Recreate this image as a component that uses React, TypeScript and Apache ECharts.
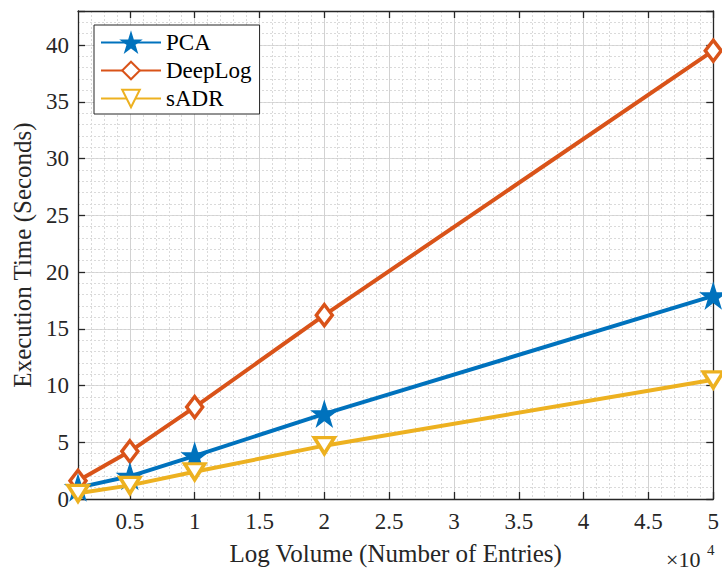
import React, { useEffect, useRef } from "react";
import * as echarts from "echarts";

// Log volume in units of 10^4 entries
const volume = [0.1, 0.5, 1, 2, 5];
// Execution time in seconds
const pca = [1.0, 2.0, 3.8, 7.5, 17.9];
const deepLog = [1.6, 4.2, 8.1, 16.2, 39.5];
const sadr = [0.5, 1.2, 2.4, 4.7, 10.5];

const seriesNames = ["PCA", "DeepLog", "sADR"];
const xTickValues = [0.5, 1, 1.5, 2, 2.5, 3, 3.5, 4, 4.5, 5];

const FONT = "Liberation Serif";
const AXIS_COLOR = "#262626";
const MAJOR_GRID = "#d2d2d2";
const MINOR_GRID = "#dadada";

const STAR =
  "path://M50 0 L61.23 34.55 L97.55 34.55 L68.17 55.9 L79.39 90.45 L50 69.1 L20.61 90.45 L31.83 55.9 L2.45 34.55 L38.77 34.55 Z";
const TRI_DOWN = "path://M0 0 L20 0 L10 16 Z";

const X_MIN = 0.1;
const X_MAX = 5;
const Y_MIN = 0;
const Y_MAX = 43;

function pairs(ys: number[]) {
  return ys.map((y, i) => [volume[i], y]);
}

export default function App() {
  const ref = useRef<HTMLDivElement>(null);

  useEffect(() => {
    if (!ref.current) return;
    const chart = echarts.init(ref.current, undefined, { renderer: "svg" });

    const hidden = {
      axisLine: { show: false },
      axisTick: { show: false },
      axisLabel: { show: false },
    };

    const boxLine = { show: true, onZero: false, lineStyle: { color: AXIS_COLOR, width: 1.3 } };
    const inTick = { show: true, inside: true, length: 7, lineStyle: { color: AXIS_COLOR, width: 1.3 } };

    chart.setOption({
      animation: false,
      backgroundColor: "#ffffff",
      textStyle: { fontFamily: FONT },
      grid: { left: 78, right: 3, top: 11, bottom: 74, containLabel: false },
      legend: {
        orient: "vertical",
        left: 94,
        top: 25,
        data: seriesNames,
        itemWidth: 60,
        itemHeight: 22,
        itemGap: 5,
        padding: [6, 8, 4, 6],
        backgroundColor: "#ffffff",
        borderColor: AXIS_COLOR,
        borderWidth: 1,
        borderRadius: 0,
        textStyle: { fontFamily: FONT, fontSize: 23, color: "#000000" },
      },
      xAxis: [
        {
          type: "value",
          position: "bottom",
          min: X_MIN,
          max: X_MAX,
          name: "Log Volume (Number of Entries)",
          nameLocation: "middle",
          nameGap: 42,
          nameTextStyle: { fontFamily: FONT, fontSize: 25, color: AXIS_COLOR },
          axisLine: boxLine,
          axisTick: { ...inTick, customValues: xTickValues },
          axisLabel: {
            customValues: xTickValues,
            margin: 11,
            fontFamily: FONT,
            fontSize: 23,
            color: AXIS_COLOR,
            formatter: (v: number) => String(Math.round(v * 2) / 2),
          },
          splitLine: { show: false },
        },
        {
          type: "value",
          position: "top",
          min: X_MIN,
          max: X_MAX,
          axisLine: boxLine,
          axisTick: { ...inTick, customValues: xTickValues },
          axisLabel: { show: false },
          splitLine: { show: false },
        },
        {
          // minor grid every 0.1
          type: "value",
          position: "bottom",
          min: X_MIN,
          max: X_MAX,
          interval: 0.1,
          ...hidden,
          splitLine: { show: true, lineStyle: { color: MINOR_GRID, type: [2, 2], width: 1 } },
        },
        {
          // major grid every 0.5
          type: "value",
          position: "bottom",
          min: X_MIN,
          max: X_MAX,
          minInterval: 0.5,
          maxInterval: 0.5,
          ...hidden,
          splitLine: { show: true, lineStyle: { color: MAJOR_GRID, width: 1 } },
        },
      ],
      yAxis: [
        {
          type: "value",
          position: "left",
          min: Y_MIN,
          max: Y_MAX,
          interval: 5,
          name: "Execution Time (Seconds)",
          nameLocation: "middle",
          nameGap: 40,
          nameTextStyle: { fontFamily: FONT, fontSize: 25, color: AXIS_COLOR },
          axisLine: boxLine,
          axisTick: inTick,
          axisLabel: {
            margin: 9,
            fontFamily: FONT,
            fontSize: 23,
            color: AXIS_COLOR,
            formatter: (v: number) => (Math.abs(v % 5) < 1e-6 ? String(v) : ""),
          },
          splitLine: { show: true, lineStyle: { color: MAJOR_GRID, width: 1 } },
        },
        {
          type: "value",
          position: "right",
          min: Y_MIN,
          max: Y_MAX,
          interval: 5,
          axisLine: boxLine,
          axisTick: inTick,
          axisLabel: { show: false },
          splitLine: { show: false },
        },
        {
          // minor grid every 1
          type: "value",
          position: "left",
          min: Y_MIN,
          max: Y_MAX,
          interval: 1,
          ...hidden,
          splitLine: { show: true, lineStyle: { color: MINOR_GRID, type: [2, 2], width: 1 } },
        },
      ],
      series: [
        {
          name: "PCA",
          type: "line",
          data: pairs(pca),
          clip: false,
          symbol: STAR,
          symbolSize: 24,
          z: 4,
          lineStyle: { color: "#0072BD", width: 4 },
          itemStyle: { color: "#0072BD", borderColor: "#0072BD", borderWidth: 1.5 },
        },
        {
          name: "DeepLog",
          type: "line",
          data: pairs(deepLog),
          clip: false,
          symbol: "diamond",
          symbolSize: [16, 21],
          z: 3,
          lineStyle: { color: "#D95319", width: 4 },
          itemStyle: { color: "#ffffff", borderColor: "#D95319", borderWidth: 3.5 },
        },
        {
          name: "sADR",
          type: "line",
          data: pairs(sadr),
          clip: false,
          symbol: TRI_DOWN,
          symbolSize: [20, 16],
          z: 5,
          lineStyle: { color: "#EDB120", width: 4 },
          itemStyle: { color: "#ffffff", borderColor: "#EDB120", borderWidth: 3.5 },
        },
      ],
      graphic: [
        {
          type: "text",
          x: 666,
          y: 559,
          style: {
            text: "×10",
            fontFamily: FONT,
            fontSize: 22,
            verticalAlign: "middle",
            fill: AXIS_COLOR,
          },
        },
        {
          type: "text",
          x: 707,
          y: 550,
          style: {
            text: "4",
            fontFamily: FONT,
            fontSize: 15,
            verticalAlign: "middle",
            fill: AXIS_COLOR,
          },
        },
      ],
    });

    return () => chart.dispose();
  }, []);

  return (
    <div
      ref={ref}
      style={{ position: "fixed", left: 0, top: 0, width: 722, height: 573, background: "#fff" }}
    />
  );
}
